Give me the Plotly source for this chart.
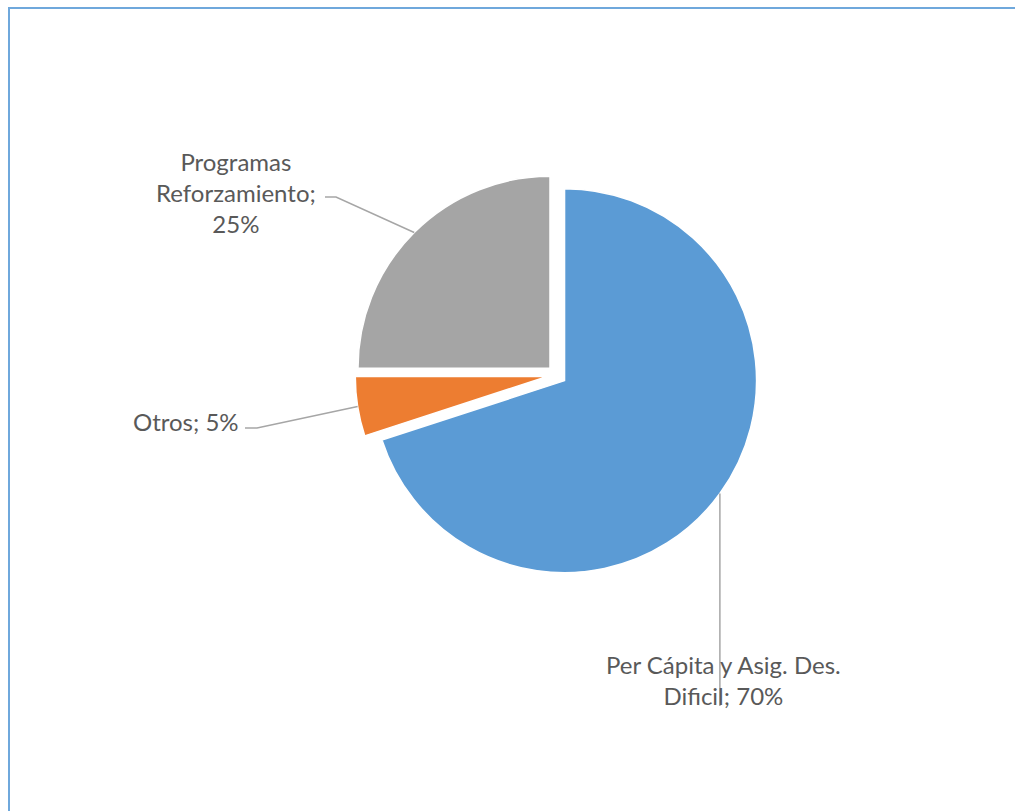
import math
import plotly.graph_objects as go

# ---- data ----
labels = ["Per Cápita y Asig. Des. Dificil", "Otros", "Programas Reforzamiento"]
values = [70, 5, 25]
colors = ["#5B9BD5", "#ED7D31", "#A5A5A5"]
label_texts = ["Per Cápita y Asig. Des.<br>Dificil; 70%", "Otros; 5%", "Programas<br>Reforzamiento;<br>25%"]

W, H = 1015, 811
PULL = 0.05
dom_x = [0.3492, 0.7479]
dom_y = [0.2890, 0.7862]

fig = go.Figure(go.Pie(
    labels=labels, values=values, sort=False, direction="clockwise", rotation=0,
    marker=dict(colors=colors, line=dict(color="white", width=1.5)),
    pull=[PULL] * len(values), textinfo="none", hoverinfo="label+percent",
    domain=dict(x=dom_x, y=dom_y), showlegend=False,
))

# pie geometry in pixels (derived from domain, as plotly computes it)
box_w = (dom_x[1] - dom_x[0]) * W
box_h = (dom_y[1] - dom_y[0]) * H
R = min(box_w, box_h) / (2 + 2 * PULL)
CX = (dom_x[0] + dom_x[1]) / 2 * W
CY = H - (dom_y[0] + dom_y[1]) / 2 * H

def px(x):
    return x / W

def py(y):
    return 1 - y / H

total = sum(values)
anchors = []
cum = 0
for v in values:
    mid = (cum + v / 2) / total * 2 * math.pi
    cum += v
    cx = CX + PULL * R * math.sin(mid)
    cy = CY - PULL * R * math.cos(mid)
    anchors.append((cx + R * math.sin(mid), cy - R * math.cos(mid)))

# label placement (pixel centres) and leader-line elbows
label_pos = [(723, 680), (186, 421), (236, 192)]
elbows = [None, [(245, 428), (257, 428)], [(325, 197), (336, 197)]]

shapes = []
line_style = dict(color="#A6A6A6", width=1.5)
for i, (ax, ay) in enumerate(anchors):
    if elbows[i] is None:
        pts = [(ax, ay), (ax, 706)]
    else:
        pts = elbows[i] + [(ax, ay)]
    path = "M " + " L ".join(f"{px(x)},{py(y)}" for x, y in pts)
    shapes.append(dict(type="path", xref="paper", yref="paper", path=path, line=line_style))

# chart border (only top and left edges are visible in the frame)
border = [(9, H), (9, 8), (W, 8)]
shapes.append(dict(type="path", xref="paper", yref="paper",
                   path="M " + " L ".join(f"{px(x)},{py(y)}" for x, y in border),
                   line=dict(color="#6FA8DC", width=2)))

annotations = []
for (lx, ly), t in zip(label_pos, label_texts):
    annotations.append(dict(x=px(lx), y=py(ly), xref="paper", yref="paper", text=t,
                            showarrow=False, xanchor="center", yanchor="middle",
                            align="center", font=dict(family="Lato", size=24, color="#595959")))

fig.update_layout(width=W, height=H, margin=dict(l=0, r=0, t=0, b=0),
                  paper_bgcolor="white", plot_bgcolor="white",
                  shapes=shapes, annotations=annotations)

fig.write_html("out.html")
